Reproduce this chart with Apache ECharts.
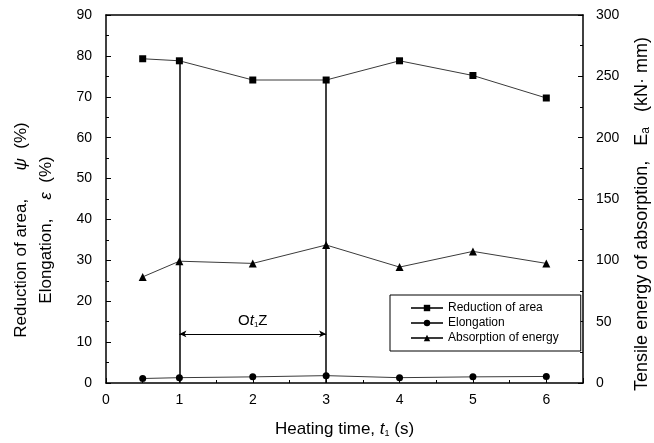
<!DOCTYPE html>
<html>
<head>
<meta charset="utf-8">
<script src="https://cdn.jsdelivr.net/npm/echarts@6/dist/echarts.min.js"></script>
<style>
  html, body { margin: 0; padding: 0; background: #fff; }
  #chart { width: 654px; height: 443px; }
</style>
</head>
<body>
<div id="chart"></div>
<script>
// heating time (s)
const heatingTime = [0.5, 1, 2, 3, 4, 5, 6];
// reduction of area, psi (%)
const reductionOfArea = [79.3, 78.8, 74.1, 74.1, 78.8, 75.2, 69.7];
// elongation, epsilon (%)
const elongation = [1.1, 1.3, 1.5, 1.8, 1.3, 1.5, 1.6];
// tensile energy of absorption, Ea (kN·mm) - right axis
const absorption = [86.5, 99.3, 97.5, 112.5, 94.5, 107.3, 97.5];

// O t1 Z range markers
const ozRange = [1, 3];
const ozArrowLevel = 12;

const FONT = '"Liberation Sans", Arial, sans-serif';
const lineColor = '#3a3a3a';

const chart = echarts.init(document.getElementById('chart'));

const pairs = (ys) => heatingTime.map((t, i) => [t, ys[i]]);

// vertical drop lines at the ends of the O t1 Z range
const dropLines = ozRange.map(t => {
  const v = reductionOfArea[heatingTime.indexOf(t)];
  return [{ coord: [t, 0] }, { coord: [t, v] }];
});

const tickStyle = { lineStyle: { color: '#000', width: 1 } };

const option = {
  animation: false,
  grid: { left: 106, right: 71, top: 15, bottom: 60, outerBoundsMode: 'none' },
  legend: {
    data: ['Reduction of area', 'Elongation', 'Absorption of energy'],
    orient: 'vertical',
    left: 390,
    top: 295,
    padding: [7, 22, 7, 20],
    itemGap: 3,
    itemWidth: 32,
    itemHeight: 8,
    borderColor: '#000',
    borderWidth: 1,
    backgroundColor: '#fff',
    textStyle: { fontFamily: FONT, fontSize: 12, color: '#000' }
  },
  xAxis: [
    {
      type: 'value',
      min: 0,
      max: 6.5,
      interval: 1,
      name: 'Heating time, {i|t}{sub|1} (s)',
      nameLocation: 'middle',
      nameGap: 37,
      nameTextStyle: {
        fontFamily: FONT, fontSize: 17, color: '#000',
        rich: {
          i: { fontFamily: FONT, fontSize: 17, fontStyle: 'italic' },
          sub: { fontFamily: FONT, fontSize: 9, verticalAlign: 'bottom', padding: [9, 0, 0, 0] }
        }
      },
      axisLine: { onZero: false, lineStyle: { color: '#000', width: 1.5 } },
      axisTick: { inside: true, length: 5, ...tickStyle },
      minorTick: { show: true, splitNumber: 2, length: 3, lineStyle: { color: '#000' } },
      axisLabel: { fontFamily: FONT, fontSize: 14, color: '#000', margin: 10, showMaxLabel: false },
      splitLine: { show: false }
    },
    {
      type: 'value',
      position: 'top',
      min: 0,
      max: 6.5,
      interval: 1,
      axisLine: { onZero: false, lineStyle: { color: '#000', width: 1.5 } },
      axisTick: { show: false },
      axisLabel: { show: false },
      splitLine: { show: false }
    }
  ],
  yAxis: [
    {
      type: 'value',
      min: 0,
      max: 90,
      interval: 10,
      name: 'Reduction of area,      {g|ψ}  (%)\nElongation,    {g|ε}  (%)',
      nameLocation: 'middle',
      nameGap: 47,
      nameTextStyle: {
        fontFamily: FONT, fontSize: 17, color: '#000', lineHeight: 25,
        padding: [0, 62, 0, 0],
        rich: {
          g: { fontFamily: FONT, fontSize: 17, fontStyle: 'italic', lineHeight: 25 }
        }
      },
      axisLine: { onZero: false, lineStyle: { color: '#000', width: 1.5 } },
      axisTick: { inside: true, length: 5, ...tickStyle },
      minorTick: { show: true, splitNumber: 2, length: 3, lineStyle: { color: '#000' } },
      axisLabel: { fontFamily: FONT, fontSize: 14, color: '#000', margin: 14 },
      splitLine: { show: false }
    },
    {
      type: 'value',
      min: 0,
      max: 300,
      interval: 50,
      position: 'right',
      name: 'Tensile energy of absorption,   E{sub|a}   (kN· mm)',
      nameLocation: 'middle',
      nameGap: 50,
      nameRotate: 90,
      nameTextStyle: {
        fontFamily: FONT, fontSize: 18, color: '#000',
        padding: [0, 30, 0, 0],
        rich: {
          sub: { fontFamily: FONT, fontSize: 12, verticalAlign: 'bottom', padding: [7, 0, 0, 0] }
        }
      },
      axisLine: { onZero: false, lineStyle: { color: '#000', width: 1.5 } },
      axisTick: { inside: true, length: 5, ...tickStyle },
      minorTick: { show: true, splitNumber: 2, length: 3, lineStyle: { color: '#000' } },
      axisLabel: { fontFamily: FONT, fontSize: 14, color: '#000', margin: 13 },
      splitLine: { show: false }
    }
  ],
  series: [
    {
      name: 'Reduction of area',
      type: 'line',
      data: pairs(reductionOfArea),
      symbol: 'rect',
      symbolSize: 7,
      itemStyle: { color: '#000' },
      lineStyle: { color: lineColor, width: 1 },
      markLine: {
        silent: true,
        symbol: 'none',
        label: { show: false },
        lineStyle: { color: '#000', width: 1.5, type: 'solid' },
        data: dropLines
      }
    },
    {
      name: 'Elongation',
      type: 'line',
      data: pairs(elongation),
      symbol: 'circle',
      symbolSize: 7,
      itemStyle: { color: '#000' },
      lineStyle: { color: lineColor, width: 1 }
    },
    {
      name: 'Absorption of energy',
      type: 'line',
      yAxisIndex: 1,
      data: pairs(absorption),
      symbol: 'triangle',
      symbolSize: 8,
      itemStyle: { color: '#000' },
      lineStyle: { color: lineColor, width: 1 }
    },
    {
      // arrow for the O t1 Z range
      name: 'oz',
      type: 'line',
      data: [],
      markLine: {
        silent: true,
        symbol: ['arrow', 'arrow'],
        symbolSize: [5, 7],
        lineStyle: { color: '#000', width: 1, type: 'solid' },
        label: {
          show: true,
          position: 'insideMiddleTop',
          distance: 5,
          formatter: 'O{i|t}{sub|1}Z',
          fontFamily: FONT,
          fontSize: 15,
          color: '#000',
          rich: {
            i: { fontFamily: FONT, fontSize: 15, fontStyle: 'italic' },
            sub: { fontFamily: FONT, fontSize: 8, verticalAlign: 'bottom', padding: [9, 0, 0, 0] }
          }
        },
        data: [[{ coord: [ozRange[0], ozArrowLevel] }, { coord: [ozRange[1], ozArrowLevel] }]]
      }
    }
  ]
};

chart.setOption(option);
</script>
</body>
</html>
